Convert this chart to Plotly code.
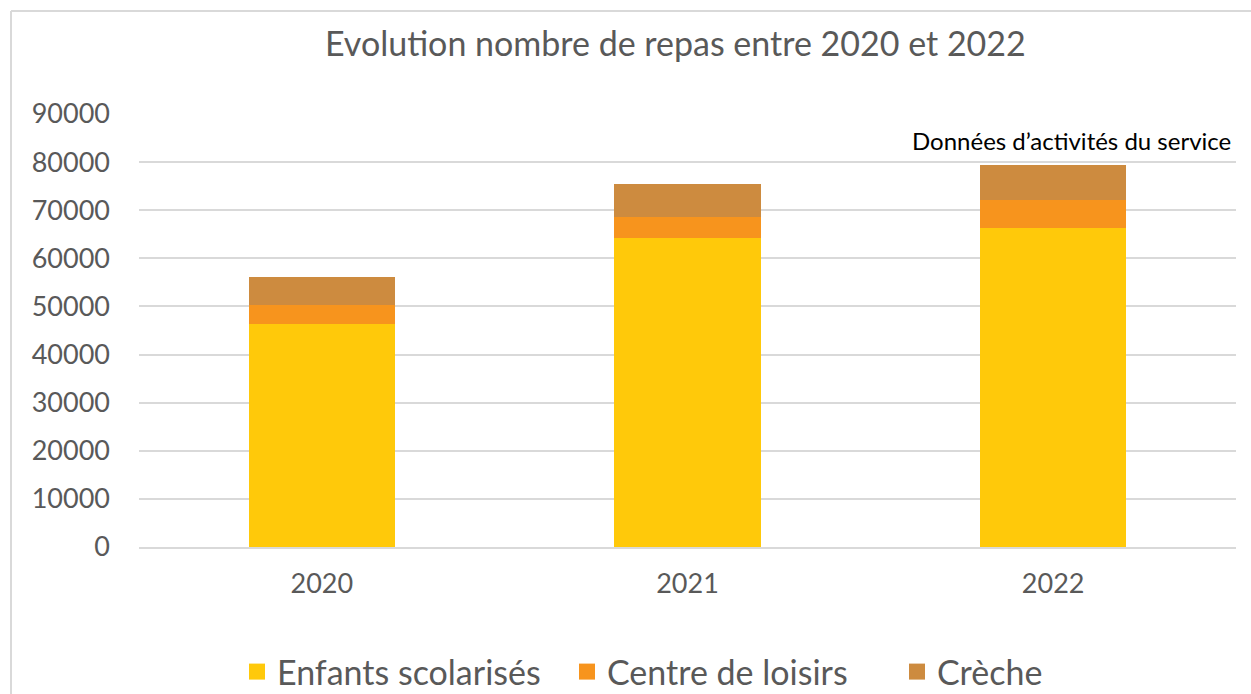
import plotly.graph_objects as go

years = ["2020", "2021", "2022"]
enfants = [46400, 64200, 66400]
loisirs = [4000, 4300, 5700]
creche = [5700, 6900, 7200]
y_ticks = [0, 10000, 20000, 30000, 40000, 50000, 60000, 70000, 80000, 90000]
series_names = ["Enfants scolarisés", "Centre de loisirs", "Crèche"]
series_colors = ["#FFC90A", "#F7941D", "#CD8B3F"]

FONT = "Lato"
GRAY = "#595959"

fig = go.Figure()
for name, vals, col in zip(series_names, [enfants, loisirs, creche], series_colors):
    fig.add_trace(go.Bar(x=years, y=vals, name=name, marker_color=col,
                         marker_line_width=0, showlegend=False))
for name, col in zip(series_names, series_colors):
    fig.add_trace(go.Scatter(x=[None], y=[None], mode="markers", name=name,
                             marker=dict(symbol="square", size=20, color=col)))

W, H = 1251, 694
L, R, T, B = 139, 15, 114, 147
pw, ph = W - L - R, H - T - B

fig.update_layout(
    width=W, height=H,
    barmode="stack", bargap=0.6,
    paper_bgcolor="white", plot_bgcolor="white",
    margin=dict(l=L, r=R, t=T, b=B, autoexpand=False),
    font=dict(family=FONT, color=GRAY),
    showlegend=True,
    legend=dict(orientation="h", traceorder="normal", x=(237 - L) / pw, xanchor="left",
                y=-(672 - 547) / ph, yanchor="middle", itemwidth=30, tracegroupgap=0,
                entrywidth=285, entrywidthmode="pixels",
                font=dict(size=34, color=GRAY, family=FONT)),
    xaxis=dict(showgrid=False, showline=True, linecolor="#D9D9D9", linewidth=1.5,
               tickfont=dict(size=27, color=GRAY, family=FONT), ticks="", ticklabelstandoff=12),
    yaxis=dict(range=[0, 90000], tickvals=y_ticks, showgrid=True, gridcolor="#D9D9D9", gridwidth=1.5,
               zeroline=False, showline=False, ticks="", tickformat="d",
               tickfont=dict(size=27, color=GRAY, family=FONT), ticklabelstandoff=28),
    annotations=[
        dict(text="Evolution nombre de repas entre 2020 et 2022", xref="paper", yref="paper",
             x=(675 - L) / pw, y=(547 - 43) / ph, xanchor="center", yanchor="middle", showarrow=False,
             font=dict(size=34, color=GRAY, family=FONT)),
        dict(text="Données d’activités du service", xref="paper", yref="paper",
             x=(1233 - L) / pw, y=(547 - 140) / ph, xanchor="right", yanchor="middle", showarrow=False,
             font=dict(size=24, color="#000000", family=FONT)),
    ],
    shapes=[
        dict(type="line", xref="paper", yref="paper", x0=(11 - L) / pw, x1=(11 - L) / pw,
             y0=(547 - 11) / ph, y1=(547 - 700) / ph, line=dict(color="#D9D9D9", width=2)),
        dict(type="line", xref="paper", yref="paper", x0=(11 - L) / pw, x1=(1260 - L) / pw,
             y0=(547 - 11) / ph, y1=(547 - 11) / ph, line=dict(color="#D9D9D9", width=2)),
    ],
)

fig.write_html("out.html", config={"displayModeBar": False},
               post_script="document.body.style.margin='0';document.body.style.overflow='hidden';")
